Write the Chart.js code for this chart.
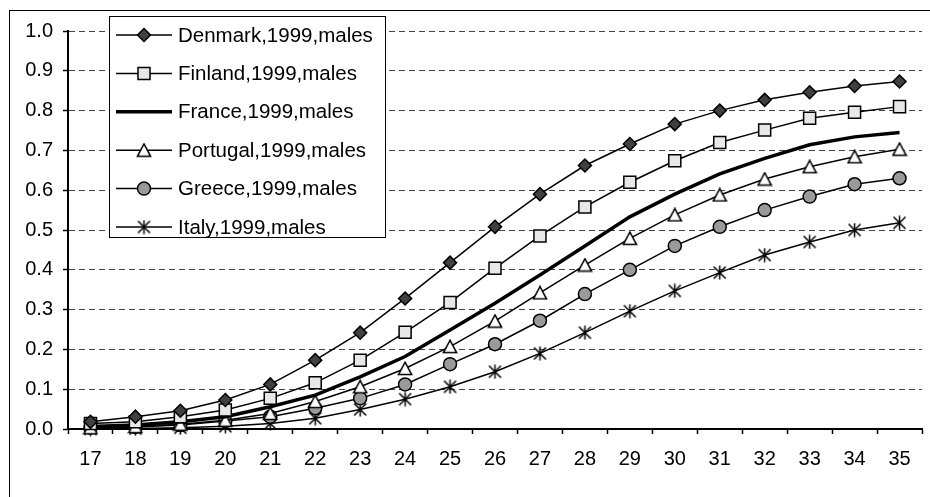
<!DOCTYPE html>
<html><head><meta charset="utf-8">
<script src="https://cdn.jsdelivr.net/npm/chart.js@4/dist/chart.umd.min.js"></script>
<style>html,body{margin:0;padding:0;overflow:hidden;background:#fff}
#wrap{position:absolute;left:0;top:0;width:932px;height:497px}</style>
</head><body><div id="wrap"><canvas id="c"></canvas></div>
<script>
const ages = ['17','18','19','20','21','22','23','24','25','26','27','28','29','30','31','32','33','34','35'];
const denmark  = [0.018,0.031,0.046,0.073,0.112,0.173,0.242,0.328,0.418,0.508,0.590,0.662,0.716,0.766,0.800,0.827,0.846,0.862,0.873];
const finland  = [0.014,0.018,0.031,0.048,0.077,0.116,0.173,0.243,0.318,0.404,0.485,0.558,0.620,0.674,0.720,0.751,0.781,0.796,0.810];
const france   = [0.006,0.010,0.018,0.031,0.056,0.085,0.131,0.182,0.249,0.316,0.387,0.460,0.533,0.590,0.641,0.680,0.714,0.734,0.745];
const portugal = [0.003,0.006,0.012,0.022,0.039,0.069,0.106,0.152,0.207,0.271,0.342,0.412,0.479,0.538,0.588,0.628,0.659,0.684,0.703];
const greece   = [0.003,0.005,0.010,0.020,0.031,0.052,0.077,0.112,0.163,0.213,0.272,0.339,0.400,0.460,0.508,0.550,0.584,0.615,0.630];
const italy    = [0.000,0.001,0.003,0.007,0.014,0.027,0.049,0.075,0.106,0.144,0.190,0.242,0.296,0.347,0.393,0.437,0.470,0.500,0.518];
const seriesNames = ['Denmark,1999,males','Finland,1999,males','France,1999,males','Portugal,1999,males','Greece,1999,males','Italy,1999,males'];
const yTicks = [0,0.1,0.2,0.3,0.4,0.5,0.6,0.7,0.8,0.9,1.0];

const FONT = '"Liberation Sans", Arial, sans-serif';

function makeStar(){
  const c=document.createElement('canvas');c.width=15;c.height=15;
  const g=c.getContext('2d');g.strokeStyle='#000';g.lineWidth=1.5;
  g.beginPath();g.moveTo(1.5,1.5);g.lineTo(13.5,13.5);g.moveTo(13.5,1.5);g.lineTo(1.5,13.5);
  g.moveTo(7.5,0.5);g.lineTo(7.5,14.5);g.stroke();return c;
}
function makeTri(){
  const c=document.createElement('canvas');c.width=16;c.height=15;
  const g=c.getContext('2d');g.strokeStyle='#000';g.lineWidth=1.5;g.fillStyle='#fff';
  g.beginPath();g.moveTo(8,1.2);g.lineTo(14.6,13.6);g.lineTo(1.4,13.6);g.closePath();g.fill();g.stroke();return c;
}
const starImg=makeStar(), triImg=makeTri();

const common = {borderColor:'#000', borderWidth:1.5, pointBorderColor:'#000', pointBorderWidth:1.5, tension:0, clip:false, fill:false};
const datasets = [
  Object.assign({label:seriesNames[0], data:denmark, pointStyle:'rectRot', pointRadius:6.5, pointBackgroundColor:'#404040'},common),
  Object.assign({label:seriesNames[1], data:finland, pointStyle:'rect', pointRadius:8.5, pointBackgroundColor:'#e8e8e8'},common),
  Object.assign({},common,{label:seriesNames[2], data:france, pointRadius:0, borderWidth:3.5}),
  Object.assign({label:seriesNames[3], data:portugal, pointStyle:triImg, pointRadius:7},common),
  Object.assign({label:seriesNames[4], data:greece, pointStyle:'circle', pointRadius:6.5, pointBackgroundColor:'#9a9a9a'},common),
  Object.assign({label:seriesNames[5], data:italy, pointStyle:starImg, pointRadius:7},common)
];

function drawMarker(ctx, ds, x, y){
  ctx.save();
  ctx.lineWidth=1.5; ctx.strokeStyle='#000'; ctx.fillStyle=ds.pointBackgroundColor||'#fff';
  const r=ds.pointRadius, s=ds.pointStyle;
  if (s instanceof HTMLCanvasElement){ ctx.drawImage(s, x-s.width/2, y-s.height/2); }
  else if (s==='rectRot'){ ctx.beginPath(); ctx.moveTo(x,y-r); ctx.lineTo(x+r,y); ctx.lineTo(x,y+r); ctx.lineTo(x-r,y); ctx.closePath(); ctx.fill(); ctx.stroke(); }
  else if (s==='rect'){ const h=r*Math.SQRT1_2; ctx.beginPath(); ctx.rect(x-h,y-h,2*h,2*h); ctx.fill(); ctx.stroke(); }
  else if (s==='circle'){ ctx.beginPath(); ctx.arc(x,y,r,0,Math.PI*2); ctx.fill(); ctx.stroke(); }
  ctx.restore();
}

const framePlugin = {
  id:'frame',
  beforeDraw(chart){
    const ctx=chart.ctx; ctx.save();
    ctx.fillStyle='#fff'; ctx.fillRect(0,0,chart.width,chart.height);
    ctx.strokeStyle='#000'; ctx.lineWidth=1; ctx.strokeRect(9.5,10.5,2000,2000);
    ctx.restore();
  },
  afterDraw(chart){
    const ctx=chart.ctx; ctx.save();
    const bx=109.5, by=16.5, bw=276, bh=221;
    ctx.fillStyle='#fff'; ctx.fillRect(bx,by,bw,bh);
    ctx.strokeStyle='#000'; ctx.lineWidth=1; ctx.strokeRect(bx,by,bw,bh);
    ctx.font='20.5px '+FONT; ctx.textBaseline='middle'; ctx.textAlign='left';
    chart.data.datasets.forEach((ds,i)=>{
      const y=35+i*38.4;
      ctx.beginPath(); ctx.strokeStyle='#000'; ctx.lineWidth=ds.borderWidth;
      ctx.moveTo(116,y); ctx.lineTo(172,y); ctx.stroke();
      if (ds.pointRadius>0) drawMarker(ctx, ds, 144, y);
      ctx.fillStyle='#000'; ctx.fillText(ds.label, 178, y+1);
    });
    ctx.restore();
  }
};

new Chart(document.getElementById('c'), {
  type:'line',
  data:{labels:ages, datasets:datasets},
  options:{
    responsive:true, maintainAspectRatio:false, animation:false, events:[],
    layout:{padding:{top:31,left:0,right:0,bottom:0}},
    plugins:{legend:{display:false}, tooltip:{enabled:false}},
    scales:{
      x:{
        offset:true,
        grid:{display:true, drawOnChartArea:false, drawTicks:true, offset:true, tickLength:5, tickColor:'#000', tickWidth:1.5},
        border:{display:true, color:'#000', width:2},
        ticks:{color:'#000', font:{family:FONT, size:20}, padding:13, maxRotation:0, autoSkip:false},
        afterFit(s){ s.height=68; }
      },
      y:{
        min:0, max:1,
        afterBuildTicks(s){ s.ticks = yTicks.map(v=>({value:v})); },
        grid:{display:true, drawOnChartArea:true, drawTicks:true, color:'#444', lineWidth:1, tickLength:5, tickColor:'#000', tickWidth:1.5, tickBorderDash:[]},
        border:{display:true, color:'#000', width:2, dash:[6,4]},
        ticks:{color:'#000', font:{family:FONT, size:20}, padding:10, callback:(v)=>Number(v).toFixed(1)},
        afterFit(s){ s.width=68; }
      }
    }
  },
  plugins:[framePlugin]
});
</script></body></html>
